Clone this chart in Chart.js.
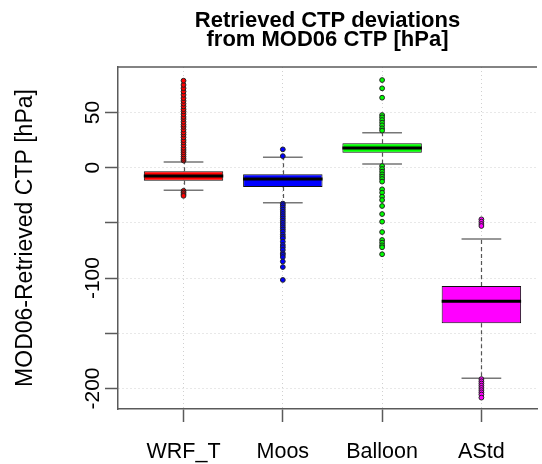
<!DOCTYPE html>
<html><head><meta charset="utf-8">
<script src="https://cdn.jsdelivr.net/npm/chart.js@4.4.0/dist/chart.umd.min.js"></script>
<style>html,body{margin:0;padding:0;background:#fff;overflow:hidden}</style>
</head><body>
<div style="width:542px;height:464px;position:relative"><canvas id="c"></canvas></div>
<script>
const categories = ['WRF_T', 'Moos', 'Balloon', 'AStd'];
const boxColors = ['#FF0000', '#0000FF', '#00FF00', '#FF00FF'];
const q1 = [-11.8, -17.5, 13.6, -141];
const medians = [-7.6, -10.2, 17.8, -121];
const q3 = [-3.3, -6, 22.1, -107.2];
const whiskerLow = [-20.5, -31.7, 3.4, -190.8];
const whiskerHigh = [5.2, 9.4, 31.7, -64.6];
const outliersWRF = [6.5, 8, 10, 12, 14, 16, 18, 20.5, 23, 25, 27.5, 30, 32, 34.5, 37, 39, 41.5, 44, 46, 48.5, 51, 53, 55.5, 58, 60.5, 63, 66, 69, 72, 75, 78.8, -21, -22.5, -24, -25.5];
const outliersMoos = [10.5, 16.6, -32.5, -34, -36, -38, -40, -42, -44, -46, -48, -50, -52, -54, -56, -58, -60.5, -62.5, -64, -67, -70, -72, -74.5, -77.5, -79, -81, -85, -90, -101.7];
const outliersBalloon = [79.4, 71.9, 63.4, 47.7, 45.6, 43.2, 40.8, 38.4, 35.7, 33.6, 1.5, -1.2, -3.6, -6.0, -8.1, -10.2, -12.6, -19.6, -22.6, -26.2, -29.3, -34.7, -42.0, -48.9, -58.3, -65.5, -67.9, -70.3, -72.1, -78.4];
const outliersAStd = [-46.8, -48.9, -51, -52.8, -191.5, -193.5, -195.5, -197.5, -199.5, -201.5, -203.5, -205.5, -208.3];
const outlierSets = [outliersWRF, outliersMoos, outliersBalloon, outliersAStd];
const yTicks = [50, 0, -50, -100, -150, -200];
const yTickLabels = ['50', '0', '', '-100', '', '-200'];
const titleLines = ['Retrieved CTP deviations', 'from MOD06 CTP [hPa]'];
const yTitle = 'MOD06-Retrieved CTP [hPa]';

const FONT = "'Liberation Sans', Arial, sans-serif";

const datasets = [{
  type: 'bar',
  data: categories.map((c, i) => ({ x: i + 1, y: [q1[i], q3[i]] })),
  backgroundColor: boxColors,
  borderColor: '#111',
  borderWidth: 1,
  borderSkipped: false,
  barPercentage: 0.8,
  categoryPercentage: 1,
  order: 2
}];
outlierSets.forEach((arr, i) => {
  datasets.push({
    type: 'scatter',
    data: arr.map(v => ({ x: i + 1, y: v })),
    pointRadius: 2.4,
    pointBackgroundColor: boxColors[i],
    pointBorderColor: '#222',
    pointBorderWidth: 1,
    showLine: false,
    order: 1
  });
});

const boxParts = {
  id: 'boxParts',
  beforeDatasetsDraw(chart) {
    const { ctx, scales: { x, y } } = chart;
    ctx.save();
    for (let i = 0; i < categories.length; i++) {
      const cx = Math.round(x.getPixelForValue(i + 1)) + 0.5;
      ctx.strokeStyle = '#555';
      ctx.lineWidth = 1.2;
      ctx.setLineDash([4, 3]);
      ctx.beginPath();
      ctx.moveTo(cx, y.getPixelForValue(q3[i]));
      ctx.lineTo(cx, y.getPixelForValue(whiskerHigh[i]));
      ctx.moveTo(cx, y.getPixelForValue(q1[i]));
      ctx.lineTo(cx, y.getPixelForValue(whiskerLow[i]));
      ctx.stroke();
      ctx.setLineDash([]);
      ctx.strokeStyle = '#777';
      ctx.lineWidth = 1.6;
      ctx.beginPath();
      const xl = x.getPixelForValue(i + 1 - 0.2), xr = x.getPixelForValue(i + 1 + 0.2);
      [whiskerHigh[i], whiskerLow[i]].forEach(v => {
        const yy = y.getPixelForValue(v);
        ctx.moveTo(xl, yy); ctx.lineTo(xr, yy);
      });
      ctx.stroke();
    }
    ctx.restore();
  },
  afterDatasetDraw(chart, args) {
    if (args.index !== 0) return;
    const { ctx, scales: { x, y } } = chart;
    ctx.save();
    ctx.strokeStyle = '#000';
    ctx.lineWidth = 3;
    for (let i = 0; i < categories.length; i++) {
      const yy = y.getPixelForValue(medians[i]);
      ctx.beginPath();
      ctx.moveTo(x.getPixelForValue(i + 1 - 0.4), yy);
      ctx.lineTo(x.getPixelForValue(i + 1 + 0.4), yy);
      ctx.stroke();
    }
    ctx.restore();
  },
  afterDraw(chart) {
    const { ctx, chartArea } = chart;
    ctx.save();
    ctx.strokeStyle = '#5a5a5a';
    ctx.lineWidth = 1.5;
    ctx.beginPath();
    ctx.moveTo(chartArea.left, chartArea.top);
    ctx.lineTo(chartArea.right, chartArea.top);
    ctx.stroke();
    ctx.restore();
  }
};

new Chart(document.getElementById('c'), {
  type: 'bar',
  data: { datasets },
  plugins: [boxParts],
  options: {
    responsive: true,
    maintainAspectRatio: false,
    animation: false,
    events: [],
    layout: { padding: 0 },
    plugins: {
      legend: { display: false },
      tooltip: { enabled: false },
      title: {
        display: true,
        fullSize: false,
        text: titleLines,
        color: '#000',
        font: { family: FONT, size: 22, weight: 'bold', lineHeight: 0.88 },
        padding: { top: 11, bottom: 17.3 }
      }
    },
    scales: {
      x: {
        type: 'linear',
        min: 0.34,
        max: 4.56,
        offset: false,
        z: 1,
        afterBuildTicks(scale) { scale.ticks = categories.map((c, i) => ({ value: i + 1 })); },
        afterFit(scale) { scale.height = 55; },
        ticks: {
          autoSkip: false,
          maxRotation: 0,
          minRotation: 0,
          color: '#000',
          padding: 17,
          font: { family: FONT, size: 21.5 },
          callback: (v) => categories[Math.round(v) - 1]
        },
        grid: { offset: false, color: '#d0d0d0', lineWidth: 1, drawTicks: true, tickLength: 13, tickColor: '#5a5a5a', tickWidth: 1.5 },
        border: { display: true, color: '#5a5a5a', width: 1.5, dash: [1, 3] }
      },
      y: {
        type: 'linear',
        min: -218.6,
        max: 91.2,
        z: 1,
        afterBuildTicks(scale) { scale.ticks = yTicks.map(v => ({ value: v })); },
        afterFit(scale) { scale.width = 118; },
        title: {
          display: true,
          text: yTitle,
          color: '#000',
          font: { family: FONT, size: 23, lineHeight: 1.2 },
          padding: { top: 12, bottom: 0 }
        },
        ticks: {
          autoSkip: false,
          minRotation: 90,
          maxRotation: 90,
          crossAlign: 'center',
          padding: -9.5,
          color: '#000',
          font: { family: FONT, size: 21 },
          callback: (v) => yTickLabels[yTicks.indexOf(v)]
        },
        grid: { color: '#d0d0d0', lineWidth: 1, drawTicks: true, tickLength: 13, tickColor: '#5a5a5a', tickWidth: 1.5 },
        border: { display: true, color: '#5a5a5a', width: 1.5, dash: [1, 3] }
      }
    }
  }
});
</script>
</body></html>
